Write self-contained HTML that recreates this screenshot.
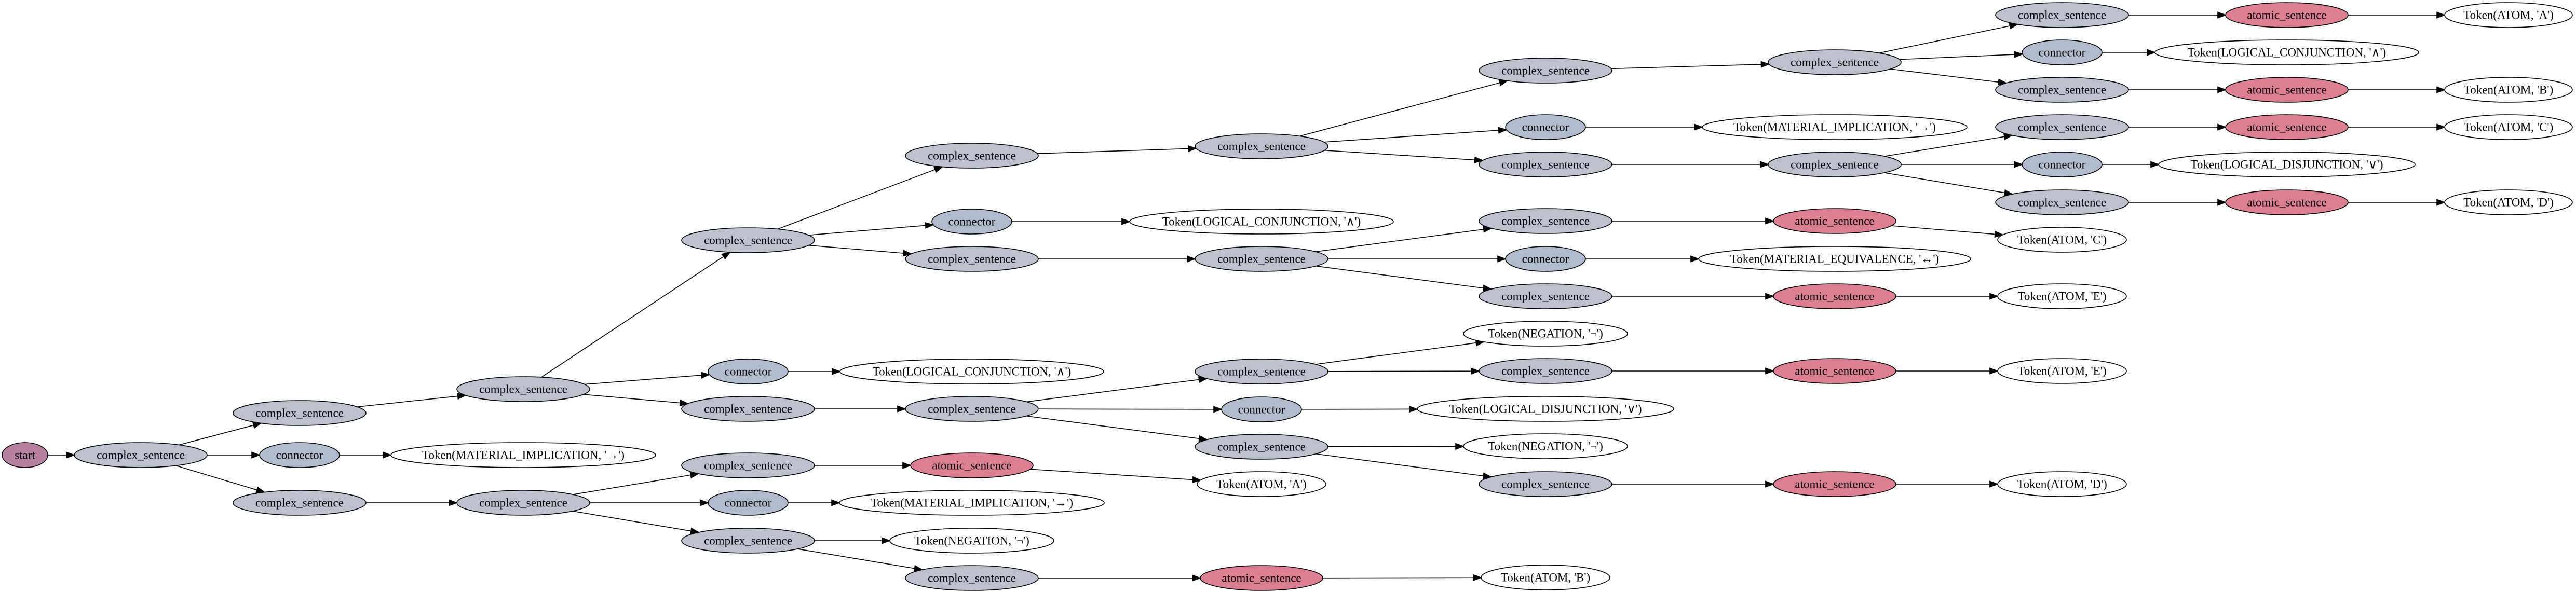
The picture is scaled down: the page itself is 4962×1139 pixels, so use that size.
<!DOCTYPE html>
<html><head><meta charset="utf-8"><style>
html,body{margin:0;padding:0;background:#fff;}
svg{display:block;}
text{font-family:"Liberation Serif","DejaVu Serif",serif;font-size:23px;text-anchor:middle;fill:#000;}
ellipse{stroke:#000;stroke-width:1.6;}
.s{fill:#b7829f}.c{fill:#bdc0cf}.n{fill:#b0bccd}.a{fill:#db7f91}.t{fill:#fff}
</style></head><body>
<svg id="g" width="4962" height="1139" viewBox="0 0 4962 1139" xmlns="http://www.w3.org/2000/svg">
<g id="edges"></g>
<g id="nodes">
<g><ellipse id="n0" class="s" cx="48" cy="877" rx="44" ry="24"/><text x="48" y="877" dy=".33em">start</text></g>
<g><ellipse id="n1" class="c" cx="271" cy="877" rx="128" ry="24"/><text x="271" y="877" dy=".33em">complex_sentence</text></g>
<g><ellipse id="n2" class="c" cx="577" cy="796" rx="128" ry="24"/><text x="577" y="796" dy=".33em">complex_sentence</text></g>
<g><ellipse id="n3" class="n" cx="577" cy="877" rx="77" ry="24"/><text x="577" y="877" dy=".33em">connector</text></g>
<g><ellipse id="n4" class="c" cx="577" cy="969" rx="128" ry="24"/><text x="577" y="969" dy=".33em">complex_sentence</text></g>
<g><ellipse id="n5" class="c" cx="1008" cy="750" rx="128" ry="24"/><text x="1008" y="750" dy=".33em">complex_sentence</text></g>
<g><ellipse id="n6" class="t" cx="1008" cy="877" rx="255" ry="24"/><text x="1008" y="877" dy=".33em">Token(MATERIAL_IMPLICATION, '→')</text></g>
<g><ellipse id="n7" class="c" cx="1008" cy="969" rx="128" ry="24"/><text x="1008" y="969" dy=".33em">complex_sentence</text></g>
<g><ellipse id="n8" class="c" cx="1441" cy="463" rx="128" ry="24"/><text x="1441" y="463" dy=".33em">complex_sentence</text></g>
<g><ellipse id="n9" class="n" cx="1441" cy="716" rx="77" ry="24"/><text x="1441" y="716" dy=".33em">connector</text></g>
<g><ellipse id="n10" class="c" cx="1441" cy="788" rx="128" ry="24"/><text x="1441" y="788" dy=".33em">complex_sentence</text></g>
<g><ellipse id="n11" class="c" cx="1441" cy="897" rx="128" ry="24"/><text x="1441" y="897" dy=".33em">complex_sentence</text></g>
<g><ellipse id="n12" class="n" cx="1441" cy="969" rx="77" ry="24"/><text x="1441" y="969" dy=".33em">connector</text></g>
<g><ellipse id="n13" class="c" cx="1441" cy="1042" rx="128" ry="24"/><text x="1441" y="1042" dy=".33em">complex_sentence</text></g>
<g><ellipse id="n14" class="c" cx="1872" cy="300" rx="128" ry="24"/><text x="1872" y="300" dy=".33em">complex_sentence</text></g>
<g><ellipse id="n15" class="n" cx="1872" cy="427" rx="77" ry="24"/><text x="1872" y="427" dy=".33em">connector</text></g>
<g><ellipse id="n16" class="c" cx="1872" cy="499" rx="128" ry="24"/><text x="1872" y="499" dy=".33em">complex_sentence</text></g>
<g><ellipse id="n17" class="t" cx="1872" cy="716" rx="254" ry="24"/><text x="1872" y="716" dy=".33em">Token(LOGICAL_CONJUNCTION, '∧')</text></g>
<g><ellipse id="n18" class="c" cx="1872" cy="788" rx="128" ry="24"/><text x="1872" y="788" dy=".33em">complex_sentence</text></g>
<g><ellipse id="n19" class="a" cx="1872" cy="897" rx="118" ry="24"/><text x="1872" y="897" dy=".33em">atomic_sentence</text></g>
<g><ellipse id="n20" class="t" cx="1872" cy="969" rx="255" ry="24"/><text x="1872" y="969" dy=".33em">Token(MATERIAL_IMPLICATION, '→')</text></g>
<g><ellipse id="n21" class="t" cx="1872" cy="1042" rx="158" ry="24"/><text x="1872" y="1042" dy=".33em">Token(NEGATION, '¬')</text></g>
<g><ellipse id="n22" class="c" cx="1872" cy="1114" rx="128" ry="24"/><text x="1872" y="1114" dy=".33em">complex_sentence</text></g>
<g><ellipse id="n23" class="c" cx="2430" cy="282" rx="128" ry="24"/><text x="2430" y="282" dy=".33em">complex_sentence</text></g>
<g><ellipse id="n24" class="t" cx="2430" cy="427" rx="254" ry="24"/><text x="2430" y="427" dy=".33em">Token(LOGICAL_CONJUNCTION, '∧')</text></g>
<g><ellipse id="n25" class="c" cx="2430" cy="499" rx="128" ry="24"/><text x="2430" y="499" dy=".33em">complex_sentence</text></g>
<g><ellipse id="n26" class="c" cx="2430" cy="716" rx="128" ry="24"/><text x="2430" y="716" dy=".33em">complex_sentence</text></g>
<g><ellipse id="n27" class="n" cx="2430" cy="789" rx="77" ry="24"/><text x="2430" y="789" dy=".33em">connector</text></g>
<g><ellipse id="n28" class="c" cx="2430" cy="861" rx="128" ry="24"/><text x="2430" y="861" dy=".33em">complex_sentence</text></g>
<g><ellipse id="n29" class="t" cx="2430" cy="933" rx="124" ry="24"/><text x="2430" y="933" dy=".33em">Token(ATOM, 'A')</text></g>
<g><ellipse id="n30" class="a" cx="2430" cy="1114" rx="118" ry="24"/><text x="2430" y="1114" dy=".33em">atomic_sentence</text></g>
<g><ellipse id="n31" class="c" cx="2977" cy="136" rx="128" ry="24"/><text x="2977" y="136" dy=".33em">complex_sentence</text></g>
<g><ellipse id="n32" class="n" cx="2977" cy="245" rx="77" ry="24"/><text x="2977" y="245" dy=".33em">connector</text></g>
<g><ellipse id="n33" class="c" cx="2977" cy="317" rx="128" ry="24"/><text x="2977" y="317" dy=".33em">complex_sentence</text></g>
<g><ellipse id="n34" class="c" cx="2977" cy="426" rx="128" ry="24"/><text x="2977" y="426" dy=".33em">complex_sentence</text></g>
<g><ellipse id="n35" class="n" cx="2977" cy="499" rx="77" ry="24"/><text x="2977" y="499" dy=".33em">connector</text></g>
<g><ellipse id="n36" class="c" cx="2977" cy="571" rx="128" ry="24"/><text x="2977" y="571" dy=".33em">complex_sentence</text></g>
<g><ellipse id="n37" class="t" cx="2977" cy="643" rx="158" ry="24"/><text x="2977" y="643" dy=".33em">Token(NEGATION, '¬')</text></g>
<g><ellipse id="n38" class="c" cx="2977" cy="715" rx="128" ry="24"/><text x="2977" y="715" dy=".33em">complex_sentence</text></g>
<g><ellipse id="n39" class="t" cx="2977" cy="788" rx="247" ry="24"/><text x="2977" y="788" dy=".33em">Token(LOGICAL_DISJUNCTION, '∨')</text></g>
<g><ellipse id="n40" class="t" cx="2977" cy="860" rx="158" ry="24"/><text x="2977" y="860" dy=".33em">Token(NEGATION, '¬')</text></g>
<g><ellipse id="n41" class="c" cx="2977" cy="933" rx="128" ry="24"/><text x="2977" y="933" dy=".33em">complex_sentence</text></g>
<g><ellipse id="n42" class="t" cx="2977" cy="1113" rx="124" ry="24"/><text x="2977" y="1113" dy=".33em">Token(ATOM, 'B')</text></g>
<g><ellipse id="n43" class="c" cx="3534" cy="120" rx="128" ry="24"/><text x="3534" y="120" dy=".33em">complex_sentence</text></g>
<g><ellipse id="n44" class="t" cx="3534" cy="245" rx="255" ry="24"/><text x="3534" y="245" dy=".33em">Token(MATERIAL_IMPLICATION, '→')</text></g>
<g><ellipse id="n45" class="c" cx="3534" cy="317" rx="128" ry="24"/><text x="3534" y="317" dy=".33em">complex_sentence</text></g>
<g><ellipse id="n46" class="a" cx="3534" cy="426" rx="118" ry="24"/><text x="3534" y="426" dy=".33em">atomic_sentence</text></g>
<g><ellipse id="n47" class="t" cx="3534" cy="499" rx="262" ry="24"/><text x="3534" y="499" dy=".33em">Token(MATERIAL_EQUIVALENCE, '↔')</text></g>
<g><ellipse id="n48" class="a" cx="3534" cy="571" rx="118" ry="24"/><text x="3534" y="571" dy=".33em">atomic_sentence</text></g>
<g><ellipse id="n49" class="a" cx="3534" cy="715" rx="118" ry="24"/><text x="3534" y="715" dy=".33em">atomic_sentence</text></g>
<g><ellipse id="n50" class="a" cx="3534" cy="933" rx="118" ry="24"/><text x="3534" y="933" dy=".33em">atomic_sentence</text></g>
<g><ellipse id="n51" class="c" cx="3972" cy="29" rx="128" ry="24"/><text x="3972" y="29" dy=".33em">complex_sentence</text></g>
<g><ellipse id="n52" class="n" cx="3972" cy="101" rx="77" ry="24"/><text x="3972" y="101" dy=".33em">connector</text></g>
<g><ellipse id="n53" class="c" cx="3972" cy="173" rx="128" ry="24"/><text x="3972" y="173" dy=".33em">complex_sentence</text></g>
<g><ellipse id="n54" class="c" cx="3972" cy="245" rx="128" ry="24"/><text x="3972" y="245" dy=".33em">complex_sentence</text></g>
<g><ellipse id="n55" class="n" cx="3972" cy="317" rx="77" ry="24"/><text x="3972" y="317" dy=".33em">connector</text></g>
<g><ellipse id="n56" class="c" cx="3972" cy="390" rx="128" ry="24"/><text x="3972" y="390" dy=".33em">complex_sentence</text></g>
<g><ellipse id="n57" class="t" cx="3972" cy="462" rx="124" ry="24"/><text x="3972" y="462" dy=".33em">Token(ATOM, 'C')</text></g>
<g><ellipse id="n58" class="t" cx="3972" cy="571" rx="124" ry="24"/><text x="3972" y="571" dy=".33em">Token(ATOM, 'E')</text></g>
<g><ellipse id="n59" class="t" cx="3972" cy="715" rx="124" ry="24"/><text x="3972" y="715" dy=".33em">Token(ATOM, 'E')</text></g>
<g><ellipse id="n60" class="t" cx="3972" cy="933" rx="124" ry="24"/><text x="3972" y="933" dy=".33em">Token(ATOM, 'D')</text></g>
<g><ellipse id="n61" class="a" cx="4405" cy="29" rx="118" ry="24"/><text x="4405" y="29" dy=".33em">atomic_sentence</text></g>
<g><ellipse id="n62" class="t" cx="4405" cy="101" rx="254" ry="24"/><text x="4405" y="101" dy=".33em">Token(LOGICAL_CONJUNCTION, '∧')</text></g>
<g><ellipse id="n63" class="a" cx="4405" cy="173" rx="118" ry="24"/><text x="4405" y="173" dy=".33em">atomic_sentence</text></g>
<g><ellipse id="n64" class="a" cx="4405" cy="245" rx="118" ry="24"/><text x="4405" y="245" dy=".33em">atomic_sentence</text></g>
<g><ellipse id="n65" class="t" cx="4405" cy="317" rx="247" ry="24"/><text x="4405" y="317" dy=".33em">Token(LOGICAL_DISJUNCTION, '∨')</text></g>
<g><ellipse id="n66" class="a" cx="4405" cy="390" rx="118" ry="24"/><text x="4405" y="390" dy=".33em">atomic_sentence</text></g>
<g><ellipse id="n67" class="t" cx="4832" cy="29" rx="123" ry="24"/><text x="4832" y="29" dy=".33em">Token(ATOM, 'A')</text></g>
<g><ellipse id="n68" class="t" cx="4832" cy="173" rx="123" ry="24"/><text x="4832" y="173" dy=".33em">Token(ATOM, 'B')</text></g>
<g><ellipse id="n69" class="t" cx="4832" cy="245" rx="123" ry="24"/><text x="4832" y="245" dy=".33em">Token(ATOM, 'C')</text></g>
<g><ellipse id="n70" class="t" cx="4832" cy="390" rx="123" ry="24"/><text x="4832" y="390" dy=".33em">Token(ATOM, 'D')</text></g>
</g>
</svg>
<script>
(function(){
var E=[[0,1],[1,2],[1,3],[1,4],[2,5],[3,6],[4,7],[5,8],[5,9],[5,10],[7,11],[7,12],[7,13],[8,14],[8,15],[8,16],[9,17],[10,18],[11,19],[12,20],[13,21],[13,22],[14,23],[15,24],[16,25],[18,26],[18,27],[18,28],[19,29],[22,30],[23,31],[23,32],[23,33],[25,34],[25,35],[25,36],[26,37],[26,38],[27,39],[28,40],[28,41],[30,42],[31,43],[32,44],[33,45],[34,46],[35,47],[36,48],[38,49],[41,50],[43,51],[43,52],[43,53],[45,54],[45,55],[45,56],[46,57],[48,58],[49,59],[50,60],[51,61],[52,62],[53,63],[54,64],[55,65],[56,66],[61,67],[63,68],[64,69],[66,70]];
function N(i){var e=document.getElementById('n'+i);return{x:+e.getAttribute('cx'),y:+e.getAttribute('cy'),rx:+e.getAttribute('rx'),ry:+e.getAttribute('ry')};}
var g=document.getElementById('edges'),ns='http://www.w3.org/2000/svg',h='';
E.forEach(function(p){var s=N(p[0]),t=N(p[1]);var dx=t.x-s.x,dy=t.y-s.y;
var ks=1/Math.sqrt(Math.pow(dx/s.rx,2)+Math.pow(dy/s.ry,2));
var kt=1/Math.sqrt(Math.pow(dx/t.rx,2)+Math.pow(dy/t.ry,2));
var x1=s.x+ks*dx,y1=s.y+ks*dy,x2=t.x-kt*dx,y2=t.y-kt*dy;
var L=Math.sqrt(dx*dx+dy*dy),ux=dx/L,uy=dy/L,al=15,aw=5.5;
var bx=x2-al*ux,by=y2-al*uy;
h+='<line x1="'+x1+'" y1="'+y1+'" x2="'+bx+'" y2="'+by+'" stroke="#000" stroke-width="1.6"/>';
h+='<polygon points="'+x2+','+y2+' '+(bx-aw*uy)+','+(by+aw*ux)+' '+(bx+aw*uy)+','+(by-aw*ux)+'" fill="#000" stroke="#000" stroke-width="1.6"/>';
});
g.innerHTML=h;
})();
</script>
</body></html>
